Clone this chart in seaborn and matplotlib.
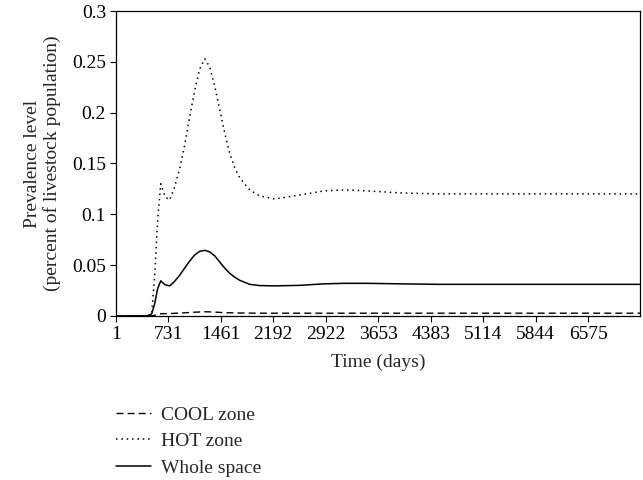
import matplotlib.pyplot as plt
import pandas as pd
import seaborn as sns

sns.set_theme(style="white")
plt.rcParams["font.family"] = ["Liberation Serif", "DejaVu Serif"]

# Values
days = [1, 335, 446, 502, 543, 585, 627, 655, 690, 752, 821, 891, 960, 1030,
        1100, 1169, 1239, 1308, 1378, 1447, 1517, 1586, 1655, 1725, 1864,
        2003, 2212, 2560, 2900, 3185, 3500, 3950, 4500, 5340, 6200, 7300]
hot = [0, 0, 0, 0.003, 0.04, 0.095, 0.130, 0.124, 0.117, 0.114, 0.127, 0.145,
       0.168, 0.196, 0.222, 0.243, 0.253, 0.245, 0.226, 0.203, 0.180, 0.160,
       0.146, 0.136, 0.124, 0.118, 0.115, 0.119, 0.123, 0.124, 0.123, 0.121,
       0.120, 0.120, 0.120, 0.120]
whole = [0, 0, 0, 0.002, 0.012, 0.027, 0.0345, 0.0325, 0.0305, 0.0295, 0.034,
         0.040, 0.047, 0.054, 0.060, 0.0635, 0.0645, 0.063, 0.059, 0.053,
         0.047, 0.042, 0.038, 0.035, 0.031, 0.0298, 0.0295, 0.030, 0.0315,
         0.032, 0.032, 0.0315, 0.031, 0.031, 0.031, 0.031]
cool = [0, 0, 0, 0, 0.0005, 0.0015, 0.002, 0.0021, 0.0022, 0.0022, 0.0025,
        0.0028, 0.003, 0.0033, 0.0036, 0.0038, 0.004, 0.0039, 0.0037, 0.0034,
        0.0031, 0.003, 0.0029, 0.0028, 0.0027, 0.0026, 0.0026, 0.0026, 0.0026,
        0.0026, 0.0026, 0.0026, 0.0026, 0.0026, 0.0026, 0.0026]

xticks = [1, 731, 1461, 2192, 2922, 3653, 4383, 5114, 5844, 6575]
yticks = [0, 0.05, 0.1, 0.15, 0.2, 0.25, 0.3]
ytick_labels = ["0", "0.05", "0.1", "0.15", "0.2", "0.25", "0.3"]

df = pd.DataFrame({"day": days, "cool": cool, "hot": hot, "whole": whole})

fig = plt.figure(figsize=(6.43, 4.8), dpi=100)
ax = fig.add_axes([0.180, 0.342, 0.816, 0.635])

sns.lineplot(data=df, x="day", y="cool", ax=ax, color="black",
             linestyle=(0, (5, 3)), linewidth=1.0, label="COOL zone")
sns.lineplot(data=df, x="day", y="hot", ax=ax, color="black",
             linestyle=(0, (1, 2.5)), linewidth=1.1, label="HOT zone")
sns.lineplot(data=df, x="day", y="whole", ax=ax, color="black",
             linestyle="-", linewidth=1.1, label="Whole space")

fs = 14
ax.set_xlim(1, 7300)
ax.set_ylim(0, 0.3)
ax.set_xticks(xticks)
ax.set_xticklabels([str(t) for t in xticks], fontsize=fs)
ax.set_yticks(yticks)
ax.set_yticklabels(ytick_labels, fontsize=fs)
ax.tick_params(axis="both", direction="out", length=4, width=0.8, pad=3,
               color="black", colors="black", bottom=True, left=True)
for side in ["left", "bottom", "top", "right"]:
    ax.spines[side].set_color("black")
    ax.spines[side].set_linewidth(0.9)

ax.set_xlabel("Time (days)", fontsize=fs, labelpad=8)
ax.set_ylabel("Prevalence level\n(percent of livestock population)",
              fontsize=fs, labelpad=8, linespacing=1.15)

handles, labels = ax.get_legend_handles_labels()
ax.get_legend().remove()
fig.legend(handles, labels, loc="upper left", bbox_to_anchor=(0.168, 0.17),
           frameon=False, fontsize=fs, handlelength=1.8, labelspacing=0.45,
           handletextpad=0.5, borderaxespad=0)

fig.savefig("out.png", dpi=100)
